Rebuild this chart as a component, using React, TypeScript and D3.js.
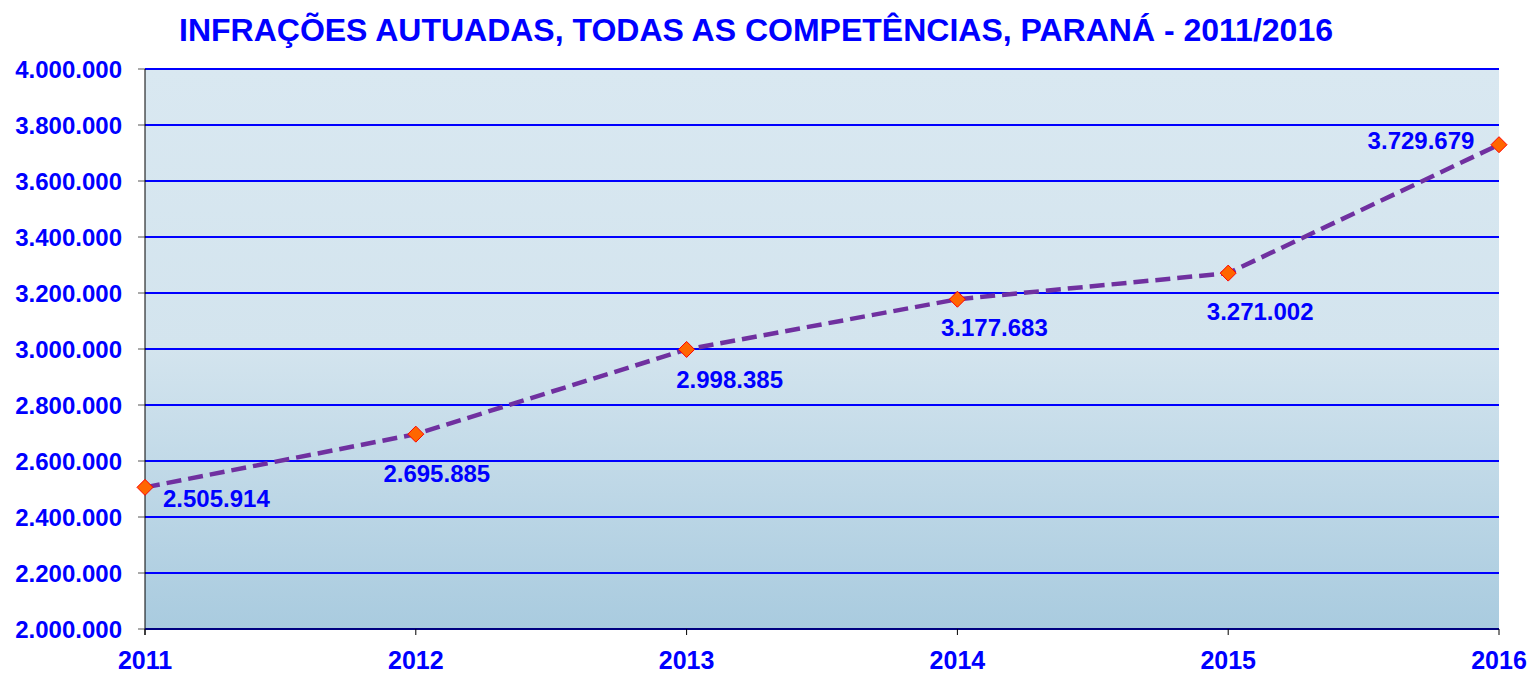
import React from "react";
import * as d3 from "d3";

const years = ["2011", "2012", "2013", "2014", "2015", "2016"];
const values = [2505914, 2695885, 2998385, 3177683, 3271002, 3729679];
const yTicks = [2000000, 2200000, 2400000, 2600000, 2800000, 3000000, 3200000, 3400000, 3600000, 3800000, 4000000];
const title = "INFRAÇÕES AUTUADAS, TODAS AS COMPETÊNCIAS, PARANÁ - 2011/2016";

const W = 1535, H = 673;
const left = 145, right = 1499, top = 69, bottom = 629;

const fmt = (v: number) => d3.format(",")(v).replace(/,/g, ".");

// label placement: [dx, dy, anchor]
const labelPos: [number, number, string][] = [
  [18, 11, "start"],
  [21, 39, "middle"],
  [43, 30, "middle"],
  [37, 28, "middle"],
  [32, 38, "middle"],
  [-78, -4, "middle"],
];

export default function App() {
  const x = d3.scalePoint<string>().domain(years).range([left, right]);
  const y = d3.scaleLinear().domain([2000000, 4000000]).range([bottom, top]);
  const line = d3.line<number>().x((_, i) => x(years[i])!).y((d) => y(d));
  const font = "'Liberation Sans', Arial, sans-serif";
  const blue = "#0000ff";
  return (
    <svg width={W} height={H} style={{ position: "absolute", left: 0, top: 0 }}>
      <defs>
        <linearGradient id="bg" x1="0" y1="0" x2="0" y2="1">
          <stop offset="0" stopColor="#d9e8f1" />
          <stop offset="0.5" stopColor="#d3e4ee" />
          <stop offset="1" stopColor="#a9cbdf" />
        </linearGradient>
      </defs>
      <rect x={0} y={0} width={W} height={H} fill="#ffffff" />
      <rect x={left} y={top} width={right - left} height={bottom - top} fill="url(#bg)" />
      {yTicks.map((t) => (
        <g key={t}>
          {t !== 2000000 && (
            <line x1={left} x2={right} y1={y(t)} y2={y(t)} stroke={blue} strokeWidth={2} />
          )}
          <line x1={left - 7} x2={left} y1={y(t)} y2={y(t)} stroke="#555" strokeWidth={1} />
          <text x={122} y={y(t)} dy="0.36em" textAnchor="end" fill={blue} fontFamily={font} fontWeight="bold" fontSize={24}>
            {fmt(t)}
          </text>
        </g>
      ))}
      <line x1={left} x2={left} y1={top} y2={bottom + 6} stroke="#000" strokeWidth={1} />
      <line x1={left} x2={right} y1={bottom} y2={bottom} stroke="#000080" strokeWidth={2} />
      {years.map((yr) => (
        <g key={yr}>
          <line x1={x(yr)} x2={x(yr)} y1={bottom} y2={bottom + 6} stroke="#000" strokeWidth={1} />
          <text x={x(yr)} y={669} textAnchor="middle" fill={blue} fontFamily={font} fontWeight="bold" fontSize={25}>
            {yr}
          </text>
        </g>
      ))}
      <path d={line(values)!} fill="none" stroke="#7030a0" strokeWidth={4.5} strokeDasharray="15 7" />
      {values.map((v, i) => {
        const cx = x(years[i])!, cy = y(v);
        const s = 8;
        return (
          <path key={i} d={`M${cx},${cy - s}L${cx + s},${cy}L${cx},${cy + s}L${cx - s},${cy}Z`} fill="#ff6600" stroke="#ff0000" strokeWidth={1} />
        );
      })}
      {values.map((v, i) => {
        const [dx, dy, anchor] = labelPos[i];
        return (
          <text key={i} x={x(years[i])! + dx} y={y(v) + dy} textAnchor={anchor as any} dy="0.36em" fill={blue} fontFamily={font} fontWeight="bold" fontSize={24}>
            {fmt(v)}
          </text>
        );
      })}
      <text x={756} y={41} textAnchor="middle" fill={blue} fontFamily={font} fontWeight="bold" fontSize={32}>
        {title}
      </text>
    </svg>
  );
}
